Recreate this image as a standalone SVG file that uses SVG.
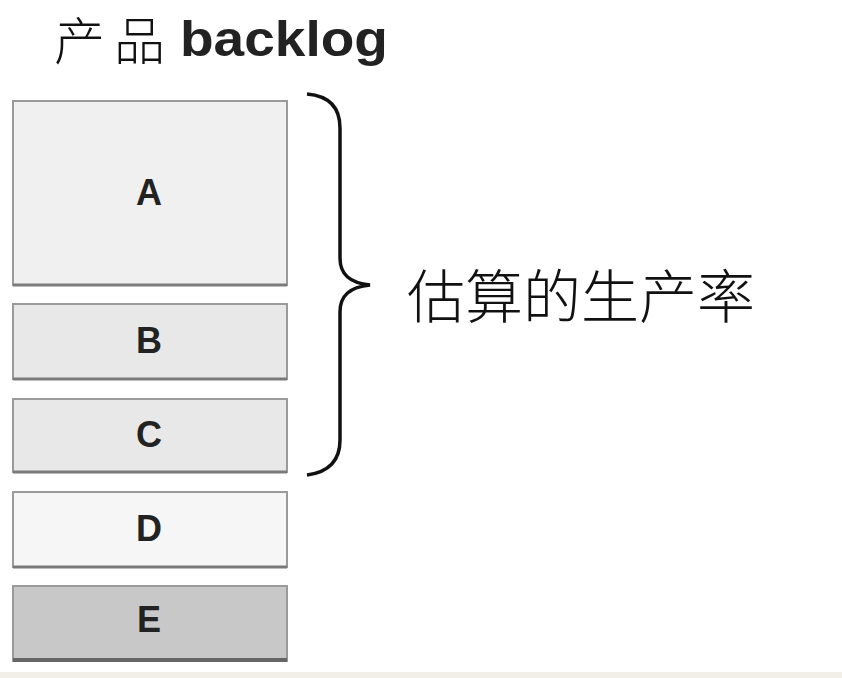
<svg xmlns="http://www.w3.org/2000/svg" width="842" height="678" viewBox="0 0 842 678">
<style>
.box{stroke:#9a9a9a;stroke-width:2}
.edge{stroke:#7a7a7a;stroke-width:3}
.lbl{font-family:"Liberation Sans",Arial,sans-serif;font-weight:bold;font-size:36px;fill:#222;text-anchor:middle}
.cjk{font-family:"Noto Sans CJK SC","Noto Sans",sans-serif;fill:#111}
</style>
<rect x="0" y="0" width="842" height="678" fill="#ffffff"/>
<rect x="0" y="672" width="842" height="6" fill="#f2efe8"/>
<g id="title">
<text x="54" y="60" class="cjk" font-size="51" font-weight="300" letter-spacing="9">产品</text>
<text x="180" y="56" font-family="'Liberation Sans',Arial,sans-serif" font-weight="bold" font-size="50" fill="#222" textLength="208" lengthAdjust="spacingAndGlyphs">backlog</text>
</g>
<g id="A">
<rect class="box" x="13" y="101" width="274" height="184" fill="#f0f0f0"/>
<line class="edge" x1="13" y1="285" x2="287" y2="285"/>
<text class="lbl" x="149" y="205">A</text>
</g>
<g id="B">
<rect class="box" x="13" y="304" width="274" height="75" fill="#e8e8e8"/>
<line class="edge" x1="13" y1="379" x2="287" y2="379"/>
<text class="lbl" x="149" y="353">B</text>
</g>
<g id="C">
<rect class="box" x="13" y="399" width="274" height="73" fill="#e8e8e8"/>
<line class="edge" x1="13" y1="472" x2="287" y2="472"/>
<text class="lbl" x="149" y="447">C</text>
</g>
<g id="D">
<rect class="box" x="13" y="492" width="274" height="75" fill="#f6f6f6"/>
<line class="edge" x1="13" y1="567" x2="287" y2="567"/>
<text class="lbl" x="149" y="541">D</text>
</g>
<g id="E">
<rect class="box" x="13" y="586" width="274" height="75" fill="#c8c8c8"/>
<line x1="13" y1="660" x2="287" y2="660" stroke="#666" stroke-width="4"/>
<text class="lbl" x="149" y="632">E</text>
</g>
<g id="connectors">
<path d="M307,94 C330,96 340,108 340,128 L340,258 C340,275 350,283 370,285 C350,287 340,295 340,312 L340,440 C340,460 330,472 307,475" fill="none" stroke="#111" stroke-width="3.5"/>
</g>
<g id="estimate">
<text x="407" y="318" class="cjk" font-size="58" font-weight="300">估算的生产率</text>
</g>
</svg>
